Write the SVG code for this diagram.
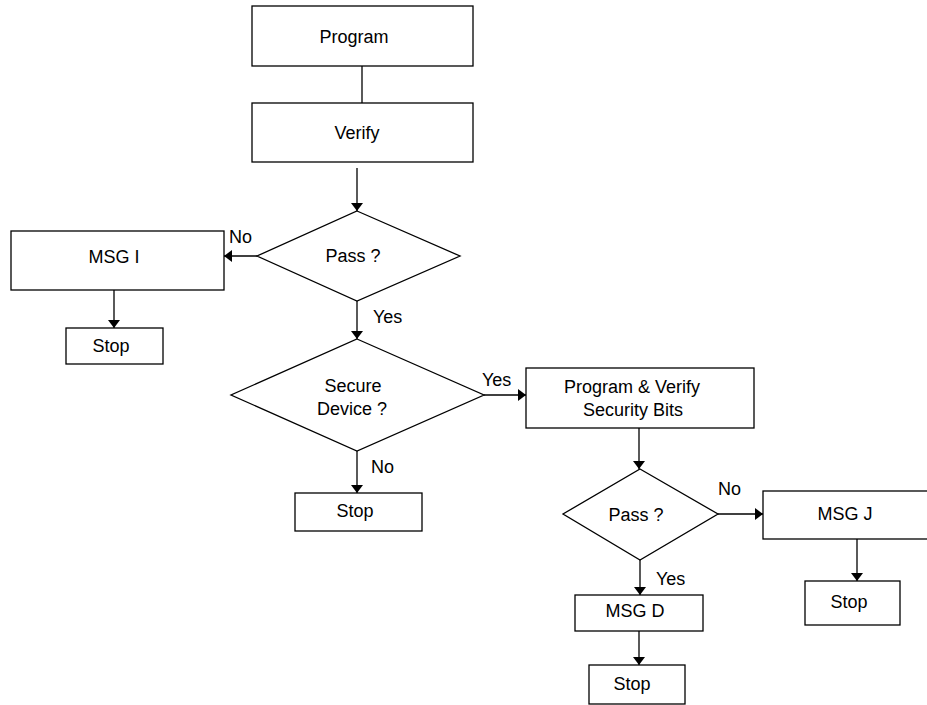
<svg xmlns="http://www.w3.org/2000/svg" width="927" height="705" viewBox="0 0 927 705">
  <style>
    .box { fill: #ffffff; stroke: #000000; stroke-width: 1.3; }
    .edge { fill: none; stroke: #000000; stroke-width: 1.3; }
    text { font-family: "Liberation Sans", Arial, sans-serif; font-size: 18px; fill: #000000; }
    .c { text-anchor: middle; }
  </style>
  <defs>
    <marker id="arrow" viewBox="0 0 8 12" refX="8" refY="6" markerWidth="8" markerHeight="12" markerUnits="userSpaceOnUse" orient="auto">
      <path d="M0,0 L8,6 L0,12 Z" fill="#000000"/>
    </marker>
  </defs>
  <rect width="927" height="705" fill="#ffffff"/>

  <!-- connectors -->
  <g id="connectors">
    <line class="edge" x1="362" y1="66" x2="362" y2="103"/>
    <line class="edge" x1="357" y1="168" x2="357" y2="211" marker-end="url(#arrow)"/>
    <line class="edge" x1="257" y1="256" x2="224" y2="256" marker-end="url(#arrow)"/>
    <line class="edge" x1="114" y1="290" x2="114" y2="328" marker-end="url(#arrow)"/>
    <line class="edge" x1="357" y1="301" x2="357" y2="339" marker-end="url(#arrow)"/>
    <line class="edge" x1="484" y1="395" x2="526" y2="395" marker-end="url(#arrow)"/>
    <line class="edge" x1="357" y1="451" x2="357" y2="493" marker-end="url(#arrow)"/>
    <line class="edge" x1="639" y1="428" x2="639" y2="469" marker-end="url(#arrow)"/>
    <line class="edge" x1="718" y1="514" x2="763" y2="514" marker-end="url(#arrow)"/>
    <line class="edge" x1="857" y1="539" x2="857" y2="581" marker-end="url(#arrow)"/>
    <line class="edge" x1="640" y1="560" x2="640" y2="595" marker-end="url(#arrow)"/>
    <line class="edge" x1="639" y1="631" x2="639" y2="665" marker-end="url(#arrow)"/>
    <text x="229" y="243">No</text>
    <text x="373" y="323">Yes</text>
    <text x="482" y="386">Yes</text>
    <text x="371" y="473">No</text>
    <text x="718" y="495">No</text>
    <text x="656" y="585">Yes</text>
  </g>

  <g id="program">
    <rect class="box" x="252" y="6" width="221" height="60"/>
    <text class="c" x="354" y="43">Program</text>
  </g>
  <g id="verify">
    <rect class="box" x="252" y="103" width="221" height="59"/>
    <text class="c" x="357" y="139">Verify</text>
  </g>
  <g id="pass1">
    <polygon class="box" points="357,211 460,256 357,301 257,256"/>
    <text class="c" x="353" y="262">Pass ?</text>
  </g>
  <g id="msg-i">
    <rect class="box" x="11" y="231" width="213" height="59"/>
    <text class="c" x="114" y="263">MSG I</text>
  </g>
  <g id="stop1">
    <rect class="box" x="66" y="328" width="97" height="36"/>
    <text class="c" x="111" y="352">Stop</text>
  </g>
  <g id="secure-device">
    <polygon class="box" points="357,339 484,395 357,451 231,395"/>
    <text class="c" x="353" y="392">Secure</text>
    <text class="c" x="352" y="415">Device ?</text>
  </g>
  <g id="program-verify-security">
    <rect class="box" x="526" y="368" width="228" height="60"/>
    <text class="c" x="632" y="393">Program &amp; Verify</text>
    <text class="c" x="633" y="416">Security Bits</text>
  </g>
  <g id="stop2">
    <rect class="box" x="295" y="493" width="127" height="38"/>
    <text class="c" x="355" y="517">Stop</text>
  </g>
  <g id="pass2">
    <polygon class="box" points="640,469 718,514 640,560 563,514"/>
    <text class="c" x="636" y="521">Pass ?</text>
  </g>
  <g id="msg-j">
    <rect class="box" x="763" y="491" width="172" height="48"/>
    <text class="c" x="845" y="520">MSG J</text>
  </g>
  <g id="stop3">
    <rect class="box" x="805" y="581" width="95" height="44"/>
    <text class="c" x="849" y="608">Stop</text>
  </g>
  <g id="msg-d">
    <rect class="box" x="575" y="595" width="128" height="36"/>
    <text class="c" x="635" y="617">MSG D</text>
  </g>
  <g id="stop4">
    <rect class="box" x="589" y="665" width="96" height="39"/>
    <text class="c" x="632" y="690">Stop</text>
  </g>
</svg>
